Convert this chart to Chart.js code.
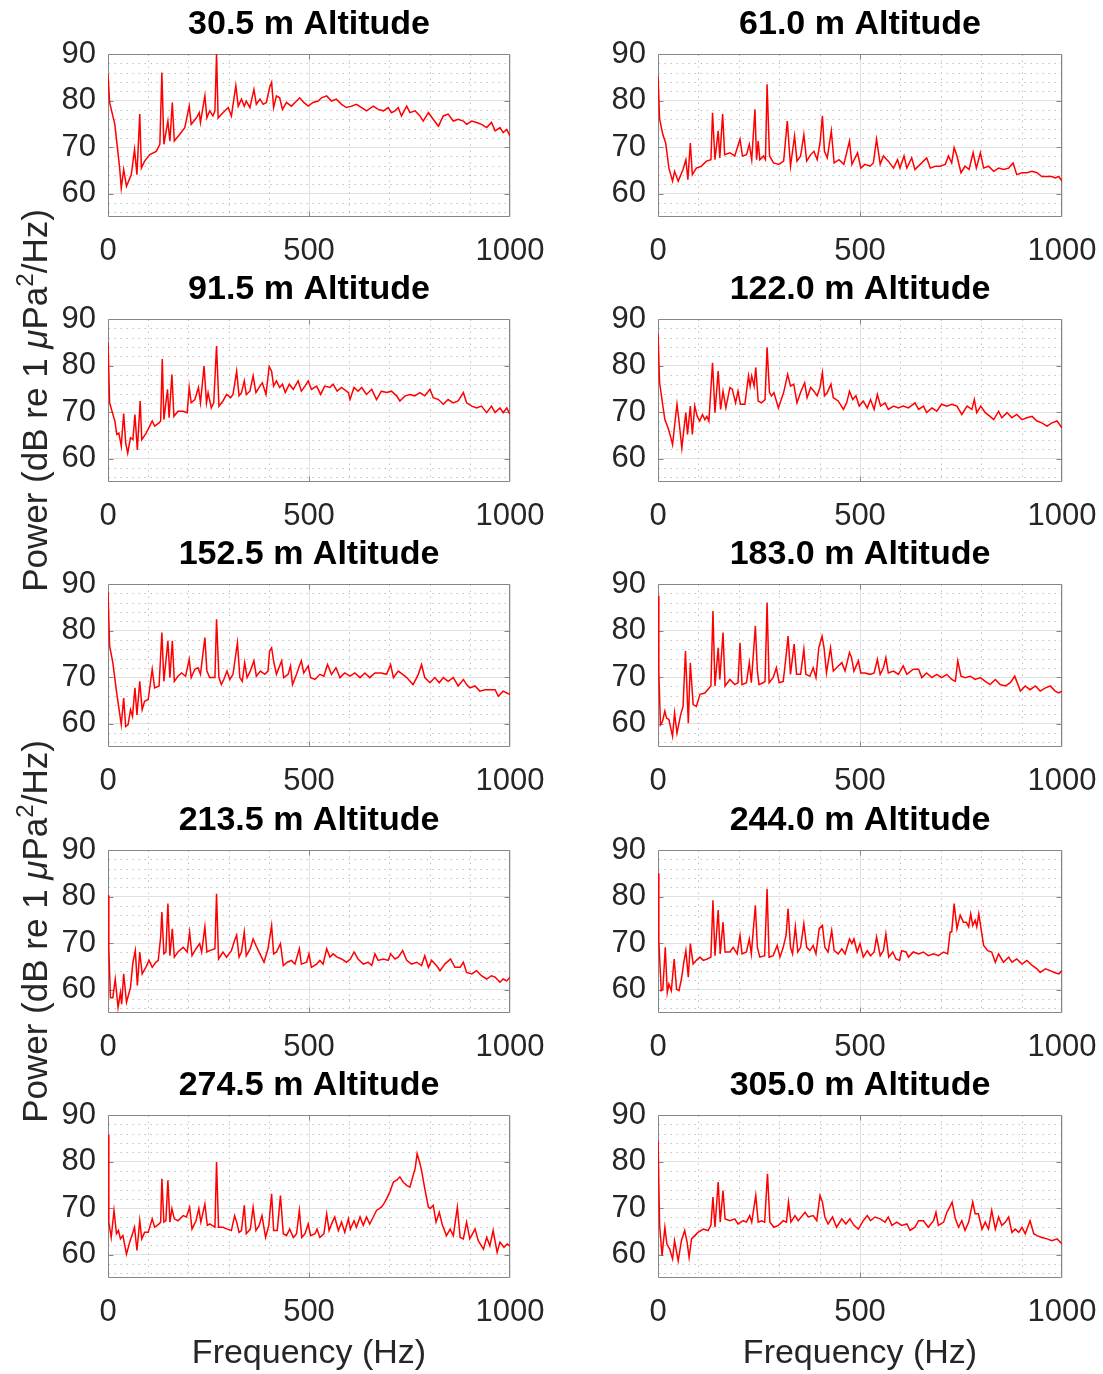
<!DOCTYPE html>
<html>
<head>
<meta charset="utf-8">
<title>Power spectra by altitude</title>
<script src="https://cdn.jsdelivr.net/npm/chart.js@4.4.1/dist/chart.umd.min.js"></script>
<style>
  html, body { margin: 0; padding: 0; background: #fff; }
  body { position: relative; width: 1103px; height: 1374px; overflow: hidden; }
  canvas { position: absolute; }
</style>
</head>
<body>
<script>
// ---- data ----
const altitudes = ["30.5", "61.0", "91.5", "122.0", "152.5", "183.0", "213.5", "244.0", "274.5", "305.0"];
const xTicks = [0, 500, 1000];
const yTicks = [60, 70, 80, 90];
const xMinor = [100, 200, 300, 400, 600, 700, 800, 900];
const yMinor = [56, 58, 62, 64, 66, 68, 72, 74, 76, 78, 82, 84, 86, 88];

// [frequency Hz, power dB]
const spec30_5 = [[0,85.7],[4,79.6],[17,74.9],[29,65.5],[33,61.2],[39,65.2],[46,61.6],[58,64.1],[66,69.5],[72,64.1],[79,77.1],[83,65.5],[91,67],[104,68.4],[120,69.1],[129,70.6],[134,86],[139,70.6],[149,75.6],[154,71.3],[160,79.6],[165,71.3],[178,72.7],[191,74.2],[202,78.8],[207,74.9],[220,76.3],[227,77.4],[230,75.3],[241,81],[246,76.3],[253,77.8],[261,76.7],[266,77.8],[270,90],[274,76.3],[286,77.4],[299,78.5],[307,76.7],[318,83.2],[324,78.8],[332,80.3],[339,78.8],[344,79.9],[353,78.5],[363,82.4],[369,79.2],[378,80.3],[386,79.2],[394,79.6],[402,82.8],[407,83.9],[412,78.5],[419,81],[427,80.6],[434,78.1],[444,79.6],[456,78.8],[469,79.9],[477,80.6],[487,79.6],[498,78.8],[510,79.6],[523,79.9],[531,80.6],[544,81],[556,79.9],[568,80.3],[581,79.2],[593,78.5],[606,78.8],[618,79.2],[631,78.5],[643,77.8],[660,78.8],[672,78.1],[685,77.8],[697,78.5],[705,77.4],[714,77.8],[722,78.5],[730,76.7],[743,78.8],[751,77.4],[764,77.8],[776,76.7],[784,75.6],[797,77.4],[809,76],[822,74.5],[834,76.7],[846,77.1],[859,75.6],[871,76],[884,75.6],[892,74.9],[905,75.6],[917,75.3],[929,74.9],[942,74.2],[954,75.3],[963,73.5],[975,74.2],[983,73.1],[992,73.8],[1000,72.4]];
const spec61_0 = [[0,85.3],[4,76],[12,72.7],[19,70.9],[27,65.5],[36,62.7],[41,64.8],[50,62.7],[62,65.2],[69,67.3],[74,63],[80,70.9],[85,64.1],[95,65.5],[107,65.9],[120,67],[131,67.3],[135,77.4],[141,67.3],[149,73.5],[153,67.7],[160,77.1],[165,68.4],[178,68.8],[190,68.1],[203,71.7],[209,68.1],[219,68.4],[226,70.6],[232,67.3],[240,78.1],[244,67.3],[248,71.3],[252,67.3],[261,68.1],[266,67.3],[270,83.5],[276,68.1],[286,66.6],[299,66.3],[311,67],[320,75.6],[328,65.9],[338,72.4],[344,67],[353,68.1],[361,72.7],[368,67],[378,68.4],[386,69.1],[394,67.3],[401,70.9],[407,76.7],[412,69.1],[419,67.7],[429,73.5],[436,66.6],[448,67.3],[460,66.3],[474,71.3],[480,66.3],[494,68.8],[502,65.5],[512,66.3],[525,65.9],[533,66.6],[541,71.7],[550,66.3],[558,68.1],[570,67],[583,65.5],[593,67.3],[599,65.5],[609,68.1],[616,65.5],[628,67.7],[636,65.2],[649,66.3],[665,67.7],[674,65.5],[686,65.9],[698,65.9],[711,66.3],[719,68.1],[727,66.6],[733,69.9],[740,68.1],[750,64.5],[760,65.9],[770,65.2],[780,68.8],[788,65.5],[798,68.8],[806,65.5],[818,65.9],[831,64.8],[843,65.5],[855,65.2],[868,65.5],[879,66.6],[888,64.1],[901,64.5],[913,64.5],[926,64.8],[938,64.5],[950,63.7],[963,63.7],[975,63.7],[983,63.4],[992,63.7],[1000,62.7]];
const spec91_5 = [[0,85],[4,72],[11,69.9],[17,68.1],[22,65.2],[27,65.5],[33,62.7],[39,69.7],[44,63.4],[49,61.2],[56,64.5],[62,64.1],[67,69.5],[73,61.9],[80,72.4],[84,64.1],[95,65.5],[110,68.1],[116,67],[127,67.7],[131,68.1],[135,81.4],[139,68.4],[148,74.9],[152,68.8],[159,78.1],[164,69.1],[174,70.2],[187,70.2],[197,69.9],[202,75.3],[207,72],[216,72.7],[225,75.3],[230,72],[239,79.9],[245,72],[249,74.2],[257,70.9],[263,72],[270,84.2],[276,71.3],[286,72.4],[295,73.8],[305,73.1],[311,73.8],[320,78.8],[326,73.5],[332,74.2],[339,76.7],[344,73.8],[353,74.5],[361,77.8],[368,74.2],[378,75.6],[384,76.3],[393,73.8],[401,79.8],[407,78.8],[412,75.6],[419,76.7],[427,75.3],[434,76],[441,74.2],[451,76],[461,74.9],[473,76.7],[481,74.5],[490,75.6],[498,76.7],[506,74.9],[519,75.6],[529,73.8],[539,75.6],[552,75.3],[560,76],[570,74.5],[581,75.3],[598,74.2],[602,72.7],[612,75.3],[622,74.5],[631,75.3],[643,73.8],[656,74.9],[668,72.7],[680,74.5],[693,74.2],[705,74.5],[718,73.5],[726,72.4],[739,73.5],[751,73.8],[763,73.5],[776,74.2],[788,73.5],[801,74.9],[809,73.1],[822,72.7],[834,71.7],[846,72.7],[859,72],[871,72.4],[884,74.2],[892,72],[905,71.3],[917,70.9],[929,71.3],[942,69.9],[954,71.3],[963,69.9],[975,70.9],[983,69.9],[992,70.9],[1000,69.5]];
const spec122_0 = [[0,86.8],[4,76.3],[11,72],[17,68.4],[25,66.6],[31,64.8],[36,63],[41,67],[47,71.7],[52,68.1],[59,62.3],[64,66.3],[69,69.9],[73,65.2],[80,71.3],[85,65.2],[91,71.3],[97,69.1],[103,68.1],[110,69.5],[116,68.4],[121,69.1],[126,68.1],[135,80.6],[141,69.9],[149,78.8],[155,70.6],[161,74.5],[168,70.9],[178,75.3],[184,74.9],[192,72],[198,74.5],[204,71.7],[215,71.7],[224,77.8],[228,75.6],[232,77.8],[238,75.6],[242,79.6],[248,72.4],[256,72],[265,72.7],[270,83.9],[276,74.2],[281,73.5],[287,74.2],[298,70.9],[311,74.2],[321,78.1],[328,75.6],[336,76],[344,72],[354,74.5],[363,76.3],[369,73.1],[378,75.3],[386,74.5],[394,73.5],[401,75.3],[407,78.5],[412,73.5],[419,74.2],[428,76],[434,73.1],[446,72.4],[459,70.6],[467,72],[474,74.5],[482,72.7],[490,73.5],[498,71.3],[508,72.4],[518,70.9],[526,72.7],[535,70.6],[543,73.8],[551,71.3],[562,72],[570,70.6],[583,71.3],[595,70.9],[607,71.3],[620,70.9],[636,72],[645,70.6],[657,71.3],[665,69.9],[678,70.9],[690,70.2],[702,71.7],[715,71.3],[727,71.7],[740,71.3],[752,69.5],[765,71.3],[777,70.6],[783,72.7],[789,69.9],[799,71.3],[810,69.9],[822,69.1],[831,68.4],[843,70.2],[851,68.8],[864,69.9],[876,68.8],[888,69.5],[901,68.4],[913,68.8],[926,69.1],[938,68.1],[950,67.7],[963,67],[975,67.7],[988,68.1],[1000,66.6]];
const spec152_5 = [[0,88.2],[4,76.7],[12,73.1],[21,67],[27,63.4],[33,59.8],[39,65.5],[44,59.4],[50,59.8],[56,63],[61,61.6],[67,67.7],[72,61.9],[79,69.1],[85,63],[91,64.8],[100,65.2],[110,71.7],[116,67.7],[127,68.1],[134,79.6],[139,69.1],[149,77.8],[154,69.9],[160,77.8],[165,69.1],[174,70.2],[183,70.9],[193,70.2],[202,73.8],[207,69.9],[216,71.7],[224,72],[230,70.6],[241,78.5],[246,71.3],[253,69.9],[266,69.9],[270,82.4],[276,69.9],[282,68.4],[288,69.5],[296,71.3],[303,69.5],[311,70.6],[322,77.4],[328,69.9],[334,69.1],[340,73.1],[346,69.9],[354,71.3],[363,73.5],[369,70.2],[379,71.3],[390,70.6],[398,71.3],[402,75.6],[407,76.3],[412,73.5],[419,70.6],[432,73.5],[437,69.9],[448,70.6],[454,72.4],[459,68.4],[469,70.6],[476,72.4],[481,73.5],[487,70.9],[498,72.4],[504,69.9],[515,69.5],[527,70.6],[537,70.2],[546,72.7],[556,70.6],[567,72],[577,69.9],[589,70.9],[602,70.2],[614,70.9],[627,69.9],[639,70.9],[651,69.9],[664,70.9],[680,70.9],[693,70.6],[703,72.7],[710,69.9],[722,71.3],[733,70.6],[743,69.9],[759,68.4],[772,70.6],[780,72.7],[788,69.9],[801,68.8],[813,69.9],[824,68.8],[834,69.9],[846,69.1],[859,69.9],[871,68.1],[884,69.5],[892,68.4],[900,67.7],[913,68.1],[925,67],[938,67.3],[950,67.3],[963,67.3],[971,65.9],[983,67],[992,66.6],[1000,66.3]];
const spec183_0 = [[0,87.5],[2,71.3],[6,59.8],[11,60.5],[17,62.7],[21,61.2],[27,60.9],[36,57.3],[41,62.3],[47,58],[56,61.9],[62,63.7],[68,75.6],[75,60.1],[80,73.1],[87,64.1],[95,63.7],[104,66.3],[116,66.6],[127,67.7],[131,68.1],[136,84.2],[141,68.1],[149,76.3],[153,69.5],[161,79.6],[166,68.1],[178,69.5],[190,68.4],[198,68.8],[203,77.4],[208,68.4],[219,68.8],[226,73.1],[231,68.8],[241,81],[246,71.3],[250,68.4],[260,68.8],[265,69.1],[270,86],[275,68.8],[285,69.9],[293,72],[300,68.8],[310,69.1],[317,74.5],[322,78.8],[328,70.6],[337,77.1],[343,70.6],[353,70.6],[361,76],[366,70.6],[376,70.2],[384,72],[391,69.9],[398,76.3],[406,78.8],[411,76.3],[417,70.9],[427,76.3],[434,71.3],[442,72],[455,73.1],[463,71.3],[474,75.3],[479,74.2],[485,71.3],[496,73.5],[502,70.9],[512,70.9],[525,70.6],[535,70.9],[543,73.8],[550,70.6],[558,72],[564,74.2],[570,70.9],[583,71.3],[595,70.6],[607,72.4],[616,70.6],[632,71.7],[645,71.7],[653,69.9],[665,70.9],[678,69.9],[690,70.6],[702,69.9],[715,70.6],[727,69.5],[736,69.1],[742,73.5],[750,70.2],[760,69.9],[773,70.2],[785,69.5],[798,69.9],[810,69.1],[822,68.4],[835,69.5],[847,68.4],[860,68.1],[872,68.8],[883,70.2],[897,67],[909,68.1],[921,67.3],[934,68.1],[946,67],[959,67.7],[971,68.1],[983,67],[992,66.6],[1000,67]];
const spec213_5 = [[0,80.3],[2,69.1],[6,58.3],[12,58.3],[18,62.3],[25,56.2],[31,59.4],[34,56.9],[39,63.4],[46,57.3],[56,60.5],[62,65.9],[68,68.4],[73,60.9],[79,68.1],[85,63.4],[94,64.8],[102,66.3],[110,64.8],[119,65.9],[125,66.3],[131,71.3],[134,76.7],[139,67.7],[144,68.1],[149,78.5],[154,67.3],[160,73.1],[165,67],[174,68.1],[187,69.1],[197,68.1],[203,72.4],[209,67.3],[219,68.8],[228,69.9],[233,68.1],[241,73.5],[246,68.1],[253,68.4],[266,68.8],[270,80.6],[275,66.6],[286,68.1],[295,67],[307,68.4],[315,70.6],[320,71.7],[326,67],[332,68.1],[339,72.4],[344,67.3],[354,68.8],[361,70.9],[368,69.5],[378,67.7],[388,65.9],[398,68.8],[407,73.8],[412,67.7],[419,68.1],[429,69.9],[436,65.2],[446,65.9],[456,66.3],[465,65.5],[476,68.8],[481,65.5],[494,65.9],[500,67.7],[506,64.8],[519,65.5],[527,66.3],[535,65.5],[544,68.8],[552,67],[560,67.7],[570,67],[581,66.6],[593,65.9],[603,66.6],[612,68.1],[622,66.6],[635,65.5],[647,65.9],[656,65.2],[664,67.7],[672,66.3],[685,66.6],[697,66.3],[703,67.7],[714,66.6],[722,67],[733,68.4],[743,66.3],[755,65.5],[768,65.9],[780,65.2],[788,67.3],[797,64.8],[805,66.3],[817,65.2],[826,64.1],[838,65.5],[852,66.6],[863,64.8],[876,64.8],[884,65.9],[892,63.7],[905,63.4],[917,64.1],[929,63],[942,62.3],[954,63],[963,62.7],[975,61.6],[983,62.3],[992,61.9],[1000,62.7]];
const spec244_0 = [[0,85],[2,70.6],[8,59.8],[12,60.1],[18,69.1],[23,59.4],[27,61.2],[33,59.8],[40,66.6],[46,60.1],[52,59.8],[58,62.3],[64,65.9],[69,68.4],[75,62.7],[80,69.9],[87,65.5],[95,66.3],[104,67],[112,66.3],[122,66.6],[131,67],[136,79.2],[141,67.3],[149,77.1],[154,67.7],[161,74.5],[166,68.1],[178,68.1],[186,69.1],[196,67.7],[203,71.7],[208,67.7],[219,68.1],[226,70.9],[231,67.7],[241,78.1],[246,69.1],[252,67],[264,67.3],[270,81.7],[275,67],[285,67.3],[295,69.5],[302,67],[310,69.1],[317,71.7],[322,77.4],[328,69.1],[333,67.7],[340,73.5],[346,68.1],[353,69.1],[361,74.2],[368,69.1],[376,68.4],[384,69.5],[391,67.7],[399,73.1],[407,73.8],[413,69.1],[421,68.1],[430,72.7],[436,68.4],[446,67.7],[455,68.8],[463,67.7],[474,70.9],[480,69.9],[485,70.9],[493,68.1],[500,69.9],[508,67],[518,68.4],[526,67.3],[535,68.1],[541,71.3],[550,67.3],[558,68.4],[564,72],[571,67],[581,68.1],[589,66.6],[598,66.3],[603,68.4],[614,68.1],[620,67],[632,68.1],[645,67.7],[657,68.1],[669,67.3],[682,67.7],[694,67.3],[707,68.1],[717,67.7],[723,72.4],[727,72.4],[733,78.5],[740,73.1],[748,76],[756,74.5],[763,74.5],[769,73.5],[774,76.3],[779,73.8],[785,74.9],[789,73.5],[794,76.3],[799,73.5],[806,69.5],[816,68.4],[826,68.1],[835,65.9],[843,67.7],[855,65.9],[868,67],[876,65.9],[888,66.6],[901,65.5],[913,66.3],[926,65.2],[938,64.5],[946,63.7],[959,64.5],[971,64.1],[981,63.7],[992,63.4],[1000,64.1]];
const spec274_5 = [[0,85.7],[2,67],[8,63.7],[15,69.5],[21,64.5],[26,65.2],[31,63.4],[37,64.1],[46,60.1],[54,62.7],[61,64.5],[66,65.9],[72,60.9],[79,67.3],[84,63.4],[91,64.8],[100,64.8],[110,67.7],[116,65.9],[127,66.6],[131,67],[134,76.3],[139,67],[144,67.3],[149,76],[154,67],[159,69.9],[165,67.7],[174,67.3],[187,68.4],[195,68.1],[203,70.2],[209,65.5],[219,67.3],[226,69.9],[231,67],[241,70.9],[247,66.3],[253,66.6],[266,65.9],[270,79.9],[275,65.9],[286,65.9],[297,65.5],[307,65.2],[315,68.4],[320,67],[326,64.8],[332,65.2],[339,70.6],[344,64.5],[354,65.5],[361,70.2],[368,65.2],[376,66.3],[383,68.4],[392,63.7],[400,66.3],[407,73.1],[412,65.2],[421,65.2],[429,72.7],[436,64.5],[444,64.1],[452,65.5],[461,63.7],[469,64.5],[476,69.5],[482,63.7],[490,64.5],[498,66.6],[504,64.1],[515,64.5],[520,65.5],[527,63.7],[537,64.5],[544,68.8],[550,65.2],[558,67],[564,68.1],[573,65.2],[581,67],[589,64.8],[598,67.7],[603,65.5],[612,67.3],[618,65.9],[627,68.1],[635,66.3],[643,68.1],[651,66.6],[660,68.1],[668,69.5],[680,70.2],[686,70.9],[693,72],[701,73.5],[710,75.6],[718,76],[726,76.7],[734,75.6],[743,74.9],[751,74.5],[758,76.7],[764,78.5],[769,81.7],[775,79.9],[780,78.1],[788,74.2],[797,70.2],[802,69.9],[809,70.6],[816,67],[824,69.1],[832,66.3],[842,64.1],[851,65.5],[859,64.1],[869,70.2],[876,63.7],[884,63.4],[892,67],[900,63.4],[913,65.5],[921,63],[934,61.2],[942,63.7],[950,61.9],[958,65.2],[968,60.5],[975,62.7],[985,61.6],[993,62.3],[1000,61.9]];
const spec305_0 = [[0,84.6],[4,66.3],[10,59.8],[17,65.9],[22,62.3],[29,61.2],[36,59.1],[41,63],[50,58.7],[58,63],[66,65.2],[72,62.7],[77,59.4],[83,63.4],[91,64.1],[99,64.8],[112,65.5],[124,65.2],[131,66.3],[136,72.4],[141,65.9],[149,75.6],[154,67],[161,73.8],[166,67.7],[178,67.3],[190,67.7],[198,66.6],[211,67.3],[219,67],[227,68.4],[232,67],[242,72.7],[248,67],[256,67.3],[264,67],[271,77.4],[277,67],[287,65.9],[298,66.3],[310,67.3],[318,67],[323,71.3],[329,67],[339,68.4],[347,67.3],[364,69.1],[372,68.1],[384,68.4],[393,67.3],[401,72.7],[407,71.3],[413,68.1],[421,66.6],[432,68.1],[442,65.9],[455,67.7],[465,66.6],[475,67.7],[485,66.3],[496,65.5],[508,67.3],[518,68.4],[526,67.3],[537,68.1],[550,67.7],[562,67],[570,68.1],[579,66.3],[591,67],[603,66.3],[616,66.6],[624,65.2],[636,65.9],[645,67.3],[657,67.3],[669,65.9],[682,67.3],[688,69.1],[694,66.3],[707,67],[715,69.1],[722,70.2],[728,71.3],[736,67.7],[744,65.9],[752,67.3],[760,65.2],[769,67],[779,71.3],[785,68.8],[793,68.8],[802,65.5],[810,67],[818,65.5],[826,69.5],[835,65.5],[843,68.1],[851,66.3],[860,67],[868,68.1],[876,64.8],[884,65.5],[893,64.8],[901,65.9],[909,64.5],[921,67.3],[930,64.5],[938,64.1],[950,63.7],[963,63.4],[975,63],[988,63.4],[1000,62.3]];

const spectra = [spec30_5, spec61_0, spec91_5, spec122_0, spec152_5, spec183_0, spec213_5, spec244_0, spec274_5, spec305_0];

// ---- layout ----
const FONT = '"Liberation Sans", Arial, Helvetica, sans-serif';
const INK = "#262626";
const plotTop = [54, 319, 584, 850, 1115];
const plotH = 163;
const titleH = 54;
const colLeft = [0, 550];
const colWidth = [550, 553];
const padRight = [40, 41];
const yAxisW = 108;

// MATLAB-like box, inward ticks and dotted minor grid
function axesDecor() {
  return {
    id: "axesDecor",
    beforeDatasetsDraw(chart) {
      const { ctx, chartArea: a } = chart;
      const xs = chart.scales.x, ys = chart.scales.y;
      const px = v => Math.round(xs.getPixelForValue(v)) + 0.5;
      const py = v => Math.round(ys.getPixelForValue(v)) + 0.5;
      const l = Math.round(a.left) + 0.5, r = Math.round(a.right) - 0.5;
      const t = Math.round(a.top) + 0.5, b = Math.round(a.bottom) - 0.5;
      ctx.save();
      ctx.lineWidth = 1;
      ctx.strokeStyle = "#c2c2c2";
      ctx.setLineDash([1.5, 4.5]);
      ctx.beginPath();
      xMinor.forEach(v => { ctx.moveTo(px(v), t); ctx.lineTo(px(v), b); });
      yMinor.forEach(v => { ctx.moveTo(l, py(v)); ctx.lineTo(r, py(v)); });
      ctx.stroke();
      ctx.setLineDash([]);
      ctx.strokeStyle = "#868686";
      ctx.beginPath();
      ctx.rect(l, t, r - l, b - t);
      xTicks.slice(1, -1).forEach(v => {
        ctx.moveTo(px(v), b); ctx.lineTo(px(v), b - 5);
        ctx.moveTo(px(v), t); ctx.lineTo(px(v), t + 5);
      });
      yTicks.slice(0, -1).forEach(v => {
        ctx.moveTo(l, py(v)); ctx.lineTo(l + 5, py(v));
        ctx.moveTo(r, py(v)); ctx.lineTo(r - 5, py(v));
      });
      ctx.stroke();
      ctx.restore();
    }
  };
}

// rotated y label with italic mu and superscript 2
function yLabel(show) {
  return {
    id: "yLabel",
    afterDraw(chart) {
      if (!show) return;
      const { ctx, chartArea } = chart;
      const cy = (chartArea.top + chartArea.bottom) / 2;
      const parts = [
        ["Power (dB re 1 ", "normal", 35, 0],
        ["\u03bc", "italic", 35, 0],
        ["Pa", "normal", 35, 0],
        ["2", "normal", 24, -14],
        ["/Hz)", "normal", 35, 0]
      ];
      ctx.save();
      let total = 0;
      const widths = parts.map(p => {
        ctx.font = p[1] + " " + p[2] + "px " + FONT;
        const w = ctx.measureText(p[0]).width;
        total += w;
        return w;
      });
      ctx.translate(47, cy);
      ctx.rotate(-Math.PI / 2);
      ctx.fillStyle = INK;
      ctx.textAlign = "left";
      ctx.textBaseline = "alphabetic";
      let u = -total / 2;
      parts.forEach((p, k) => {
        ctx.font = p[1] + " " + p[2] + "px " + FONT;
        ctx.fillText(p[0], u, p[3]);
        u += widths[k];
      });
      ctx.restore();
    }
  };
}

spectra.forEach((spec, i) => {
  const row = Math.floor(i / 2), col = i % 2;
  const hasYLabel = col === 0 && (row === 1 || row === 3);
  const ext = hasYLabel ? 70 : 0;
  const xh = row === 4 ? 96 : 52;
  const top = plotTop[row] - titleH - ext;
  const h = ext + titleH + plotH + xh + ext;

  const cv = document.createElement("canvas");
  cv.width = colWidth[col];
  cv.height = h;
  cv.style.left = colLeft[col] + "px";
  cv.style.top = top + "px";
  document.body.appendChild(cv);

  new Chart(cv, {
    type: "line",
    data: {
      datasets: [{
        label: altitudes[i] + " m",
        data: spec.map(p => ({ x: p[0], y: p[1] })),
        borderColor: "rgb(255, 0, 0)",
        borderWidth: 1.5,
        pointRadius: 0,
        tension: 0,
        fill: false
      }]
    },
    options: {
      responsive: false,
      devicePixelRatio: 1,
      animation: false,
      events: [],
      layout: { padding: { left: 0, right: padRight[col], top: ext, bottom: ext } },
      plugins: {
        legend: { display: false },
        tooltip: { enabled: false },
        title: {
          display: true,
          fullSize: false,
          text: altitudes[i] + " m Altitude",
          color: "#000",
          font: { family: FONT, size: 34, weight: "bold", lineHeight: 1.2 },
          padding: { top: 4, bottom: 9.2 }
        }
      },
      scales: {
        x: {
          type: "linear",
          min: 0,
          max: 1000,
          afterBuildTicks: s => { s.ticks = xTicks.map(v => ({ value: v })); },
          afterFit: s => { s.height = xh; s.paddingLeft = 0; s.paddingRight = 0; },
          ticks: {
            color: INK,
            font: { family: FONT, size: 31 },
            padding: 16,
            maxRotation: 0,
            autoSkip: false,
            callback: v => String(v)
          },
          grid: { color: "#e1e1e1", lineWidth: 1, drawTicks: false },
          border: { display: false },
          title: {
            display: row === 4,
            text: "Frequency (Hz)",
            color: INK,
            font: { family: FONT, size: 34 },
            padding: { top: 0, bottom: 0 }
          }
        },
        y: {
          min: 55,
          max: 90,
          afterBuildTicks: s => { s.ticks = yTicks.map(v => ({ value: v })); },
          afterFit: s => { s.width = yAxisW; },
          ticks: {
            color: INK,
            font: { family: FONT, size: 31 },
            padding: 12,
            autoSkip: false,
            callback: v => String(v)
          },
          grid: { color: "#e1e1e1", lineWidth: 1, drawTicks: false },
          border: { display: false }
        }
      }
    },
    plugins: [axesDecor(), yLabel(hasYLabel)]
  });
});
</script>
</body>
</html>
